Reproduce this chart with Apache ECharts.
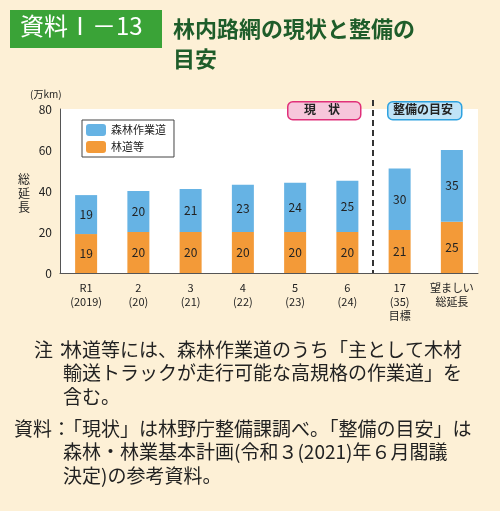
<!DOCTYPE html>
<html><head><meta charset="utf-8">
<script src="https://cdn.jsdelivr.net/npm/echarts@6/dist/echarts.min.js"></script>
<style>body{margin:0;background:#fdf0d6}#c{width:500px;height:511px}</style>
</head><body><div id="c"></div>
<script>
var categories = ['R1\n(2019)', '2\n(20)', '3\n(21)', '4\n(22)', '5\n(23)', '6\n(24)', '17\n(35)\n目標', '望ましい\n総延長'];
var rindo = [19, 20, 20, 20, 20, 20, 21, 25];
var sagyodo = [19, 20, 21, 23, 24, 25, 30, 35];
var yTicks = [0, 20, 40, 60, 80];

var chart = echarts.init(document.getElementById('c'));
var F = '"Noto Sans CJK JP", sans-serif';
function note(x, y, t) {
  return {type: 'text', left: x, top: y, style: {text: t, fill: '#222', fontSize: 19, fontFamily: F, lineHeight: 23.5}};
}
chart.setOption({
  backgroundColor: '#fdf0d6',
  textStyle: {fontFamily: F},
  grid: {left: 60, right: 22, top: 109, bottom: 238},
  legend: {
    left: 82, top: 120, orient: 'vertical', itemWidth: 20, itemHeight: 12, itemGap: 5,
    backgroundColor: '#fff', borderColor: '#444', borderWidth: 1, padding: [4, 8, 4, 4],
    textStyle: {fontSize: 11, color: '#222'},
    data: ['森林作業道', '林道等']
  },
  xAxis: {
    type: 'category', data: categories,
    axisLine: {lineStyle: {color: '#555'}},
    axisTick: {length: 4, lineStyle: {color: '#555'}},
    axisLabel: {color: '#222', fontSize: 11, lineHeight: 14, interval: 0}
  },
  yAxis: {
    type: 'value', min: 0, max: 80, interval: 20,
    axisLine: {show: true, lineStyle: {color: '#555'}},
    splitLine: {show: false},
    axisLabel: {color: '#222', fontSize: 12, formatter: function (v) { return yTicks.indexOf(v) >= 0 ? v : ''; }}
  },
  series: [
    {name: '林道等', type: 'bar', stack: 's', data: rindo, barWidth: 22,
      itemStyle: {color: '#f39a38'},
      label: {show: true, color: '#222', fontSize: 12}},
    {name: '森林作業道', type: 'bar', stack: 's', data: sagyodo, barWidth: 22,
      itemStyle: {color: '#66b3e4'},
      label: {show: true, color: '#222', fontSize: 12}}
  ],
  graphic: [
    {type: 'rect', left: 10, top: 10, shape: {width: 152, height: 38}, style: {fill: '#3aa337'}},
    {type: 'text', left: 20, top: 14, style: {text: '資料Ⅰ－13', fill: '#fff', fontSize: 24, fontFamily: F}},
    {type: 'text', left: 173, top: 14, style: {text: '林内路網の現状と整備の\n目安', fill: '#1f5d2a', fontSize: 22, fontWeight: 'bold', lineHeight: 30, fontFamily: F}},
    {type: 'rect', left: 60, top: 109, z: -1, shape: {width: 418, height: 164}, style: {fill: '#fff'}},
    {type: 'text', left: 30, top: 89, style: {text: '(万km)', fill: '#222', fontSize: 10, fontFamily: F}},
    {type: 'text', left: 18, top: 172, style: {text: '総\n延\n長', fill: '#222', fontSize: 12, lineHeight: 14, fontFamily: F}},
    {type: 'line', shape: {x1: 373, y1: 100, x2: 373, y2: 273}, style: {stroke: '#333', lineWidth: 2, lineDash: [6, 4]}},
    {type: 'rect', left: 287, top: 101, shape: {width: 73, height: 18, r: 5}, style: {fill: '#f7c6db', stroke: '#e0307a', lineWidth: 1.5}},
    {type: 'text', left: 304, top: 103, style: {text: '現　状', fill: '#222', fontSize: 12, fontWeight: 'bold', fontFamily: F}},
    {type: 'rect', left: 387, top: 101, shape: {width: 74, height: 18, r: 5}, style: {fill: '#bfe3f7', stroke: '#2ea2e0', lineWidth: 1.5}},
    {type: 'text', left: 393, top: 103, style: {text: '整備の目安', fill: '#222', fontSize: 12, fontWeight: 'bold', fontFamily: F}},
    note(34, 338, '注：'),
    note(63, 338, '林道等には、森林作業道のうち「主として木材\n輸送トラックが走行可能な高規格の作業道」を\n含む。'),
    note(14, 417, '資料：'),
    note(63, 417, '「現状」は林野庁整備課調べ。「整備の目安」は\n森林・林業基本計画(令和３(2021)年６月閣議\n決定)の参考資料。')
  ]
});
</script></body></html>
